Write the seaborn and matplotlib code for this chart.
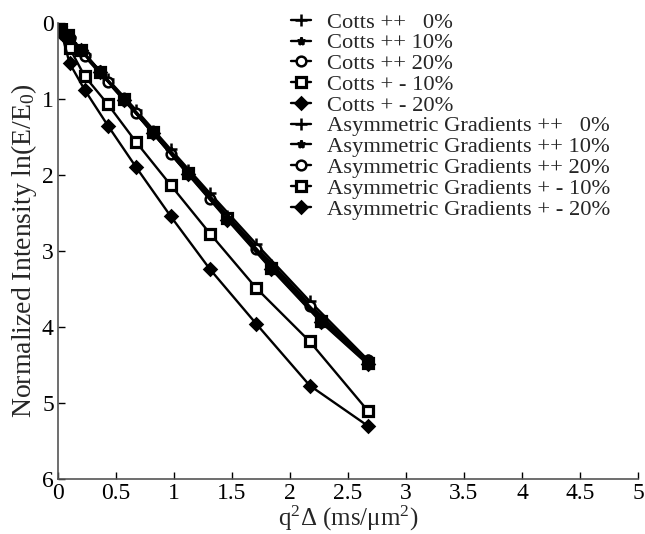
import matplotlib
matplotlib.use("Agg")
import matplotlib.pyplot as plt
import seaborn as sns
import pandas as pd

# q^2 Delta values (ms/um^2)
cotts_x = [0, 0.03, 0.10, 0.23, 0.43, 0.67, 0.97, 1.31, 1.71, 2.17, 2.67]
asym_x = [0, 0.02, 0.09, 0.20, 0.36, 0.57, 0.82, 1.12, 1.46, 1.84, 2.27, 2.67]

# normalized intensity -ln(E/E0)
cotts_pp0 = [0, 0.05, 0.18, 0.41, 0.74, 1.14, 1.66, 2.24, 2.91, 3.66, 4.43]
cotts_pp10 = [0, 0.05, 0.19, 0.42, 0.76, 1.17, 1.69, 2.28, 2.95, 3.70, 4.46]
cotts_pp20 = [0, 0.06, 0.20, 0.44, 0.78, 1.19, 1.72, 2.31, 2.98, 3.73, 4.44]
cotts_pm10 = [0, 0.08, 0.33, 0.70, 1.07, 1.56, 2.13, 2.77, 3.49, 4.19, 5.10]
cotts_pm20 = [0, 0.13, 0.53, 0.88, 1.35, 1.89, 2.54, 3.24, 3.96, 4.77, 5.30]
asym_pp0 = [0, 0.04, 0.16, 0.35, 0.63, 0.99, 1.42, 1.94, 2.54, 3.19, 3.89, 4.46]
asym_pp10 = [0, 0.04, 0.16, 0.36, 0.64, 1.00, 1.43, 1.96, 2.56, 3.21, 3.91, 4.47]
asym_pp20 = [0, 0.04, 0.17, 0.36, 0.65, 1.01, 1.45, 1.98, 2.58, 3.23, 3.93, 4.48]
asym_pm10 = [0, 0.04, 0.16, 0.35, 0.64, 1.00, 1.44, 1.97, 2.57, 3.22, 3.92, 4.47]
asym_pm20 = [0, 0.04, 0.17, 0.36, 0.65, 1.01, 1.45, 1.99, 2.59, 3.24, 3.94, 4.49]

labels = ["Cotts ++   0%", "Cotts ++ 10%", "Cotts ++ 20%", "Cotts + - 10%", "Cotts + - 20%",
          "Asymmetric Gradients ++   0%", "Asymmetric Gradients ++ 10%",
          "Asymmetric Gradients ++ 20%", "Asymmetric Gradients + - 10%",
          "Asymmetric Gradients + - 20%"]
series = [cotts_pp0, cotts_pp10, cotts_pp20, cotts_pm10, cotts_pm20,
          asym_pp0, asym_pp10, asym_pp20, asym_pm10, asym_pm20]
x_sets = [cotts_x] * 5 + [asym_x] * 5

xticks = [0, 0.5, 1, 1.5, 2, 2.5, 3, 3.5, 4, 4.5, 5]
xticklabels = ["0", "0.5", "1", "1.5", "2", "2.5", "3", "3.5", "4", "4.5", "5"]
yticks = [0, 1, 2, 3, 4, 5, 6]

sns.set_style("ticks")
plt.rcParams['font.family'] = ['Liberation Serif', 'DejaVu Serif']
plt.rcParams['mathtext.fontset'] = 'custom'
plt.rcParams['mathtext.rm'] = 'Liberation Serif'
plt.rcParams['mathtext.it'] = 'Liberation Serif:italic'

# marker style per series: (marker, size, face, edge width)
styles = [("+", 9, "black", 1.8), ("*", 6, "black", 1.8), ("o", 7, "white", 1.8),
          ("s", 7, "white", 2.3), ("D", 6, "black", 1.8)] * 2

fig = plt.figure(figsize=(6.45, 5.34), dpi=100)
ax = fig.add_axes([58 / 645, 1 - 479 / 534, 580 / 645, 456 / 534])

for lab, xs, ys, (mk, ms, mfc, mew) in zip(labels, x_sets, series, styles):
    df = pd.DataFrame({"x": xs, "y": ys})
    sns.lineplot(data=df, x="x", y="y", ax=ax, color="black", linewidth=1.7,
                 marker=mk, markersize=ms, markerfacecolor=mfc, markeredgecolor="black",
                 markeredgewidth=mew, estimator=None, sort=False, label=lab)

ax.set_xlim(0, 5)
ax.set_ylim(6, 0)
ax.set_xticks(xticks)
ax.set_xticklabels(xticklabels)
ax.set_yticks(yticks)
ax.tick_params(direction="in", length=5, width=1, colors="black", labelsize=17, pad=3)
sns.despine(ax=ax)
for s in ["left", "bottom"]:
    ax.spines[s].set_color("#555555")
    ax.spines[s].set_linewidth(1.2)

ax.set_xlabel("q$^2$Δ (ms/μm$^2$)", fontsize=18, labelpad=0)
ax.set_ylabel("Normalized Intensity ln(E/E$_0$)", fontsize=20, labelpad=2)

ax.legend(loc="upper left", bbox_to_anchor=(291 / 645, 1 - 12 / 534), bbox_transform=fig.transFigure,
          frameon=False, fontsize=16.2, labelspacing=0, handlelength=0.9, handletextpad=0.7,
          borderpad=0, borderaxespad=0)

fig.savefig("out.png", dpi=100)
